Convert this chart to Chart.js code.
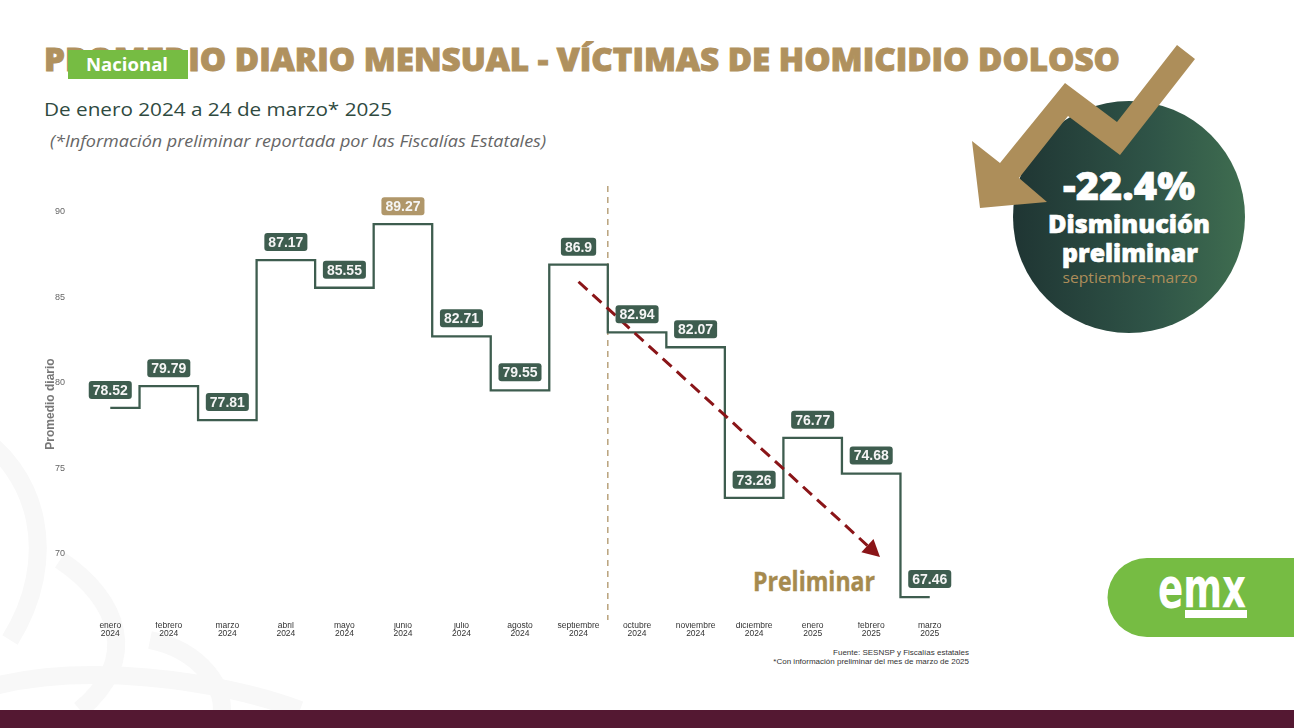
<!DOCTYPE html>
<html lang="es">
<head>
<meta charset="utf-8">
<title>Promedio diario mensual - víctimas de homicidio doloso</title>
<script src="https://cdn.jsdelivr.net/npm/chart.js@4.4.1/dist/chart.umd.min.js"></script>
<style>
  body { margin: 0; width: 1294px; height: 728px; overflow: hidden; background: #fff; position: relative; }
  #deco, #myChart { position: absolute; left: 0; top: 0; }
</style>
</head>
<body>
<svg id="deco" width="1294" height="728" xmlns="http://www.w3.org/2000/svg">
  <defs>
    <linearGradient id="verde" x1="0" y1="0" x2="1" y2="0">
      <stop offset="0" stop-color="#1f3533"/>
      <stop offset="0.6" stop-color="#2f5447"/>
      <stop offset="1" stop-color="#3f6d50"/>
    </linearGradient>
  </defs>
  <!-- fondo tenue -->
  <g fill="none" stroke="#f8f8f8" stroke-width="18">
    <path d="M-30,430 C40,470 60,560 10,640"/>
    <path d="M60,560 C120,600 140,660 80,710"/>
    <path d="M-20,690 C80,660 220,680 300,710"/>
    <path d="M150,640 C200,650 230,690 220,720"/>
  </g>

  <text x="44" y="71" font-family="Open Sans, sans-serif" font-weight="800" font-size="31" fill="#b0915e" stroke="#b0915e" stroke-width="0.9" textLength="1076" lengthAdjust="spacingAndGlyphs">PROMEDIO DIARIO MENSUAL - VÍCTIMAS DE HOMICIDIO DOLOSO</text>
  <rect x="68" y="50" width="120" height="29" fill="#76bc43"/>
  <text x="127" y="71" text-anchor="middle" font-family="Open Sans, sans-serif" font-weight="700" font-size="18" fill="#fff" textLength="82" lengthAdjust="spacingAndGlyphs">Nacional</text>

  <text x="44" y="116" font-family="Open Sans, sans-serif" font-size="19" fill="#2f4a3f" textLength="348" lengthAdjust="spacingAndGlyphs">De enero 2024 a 24 de marzo* 2025</text>
  <text x="50" y="147" font-family="Open Sans, sans-serif" font-style="italic" font-size="16" fill="#666" textLength="496" lengthAdjust="spacingAndGlyphs">(*Información preliminar reportada por las Fiscalías Estatales)</text>

  <circle cx="1129" cy="217" r="116" fill="url(#verde)"/>
  <polygon fill="#ad8e5a" points="1177,45 1195,59 1120,155 1068,116 1019,178 1047,202 980,208 972,141 1000,163 1065,83 1117,122"/>
  <g font-family="Open Sans, sans-serif" font-weight="800" fill="#fff" stroke="#fff" stroke-width="0.6" text-anchor="middle">
    <text x="1129" y="200" font-size="38" textLength="132" lengthAdjust="spacingAndGlyphs">-22.4%</text>
    <text x="1129" y="233" font-size="24" textLength="162" lengthAdjust="spacingAndGlyphs">Disminución</text>
    <text x="1130" y="262" font-size="24" textLength="136" lengthAdjust="spacingAndGlyphs">preliminar</text>
  </g>
  <text x="1130" y="283" text-anchor="middle" font-family="Open Sans, sans-serif" font-size="14" fill="#ad8e5a" textLength="135" lengthAdjust="spacingAndGlyphs">septiembre-marzo</text>

  <text x="753" y="591" font-family="Open Sans, sans-serif" font-weight="700" font-size="26" fill="#a68a4e" stroke="#a68a4e" stroke-width="0.4" textLength="122" lengthAdjust="spacingAndGlyphs">Preliminar</text>

  <g font-family="Liberation Sans, Arial, sans-serif" font-size="8" fill="#333" text-anchor="end">
    <text x="969" y="655">Fuente: SESNSP y Fiscalías estatales</text>
    <text x="969" y="664">*Con información preliminar del mes de marzo de 2025</text>
  </g>

  <path d="M1294,558 H1147 A39.5,39.5 0 0 0 1147,637 H1294 Z" fill="#76bc43"/>
  <text x="1158" y="607" font-family="DejaVu Sans Condensed, sans-serif" font-weight="700" font-size="34" fill="#fff" textLength="88" lengthAdjust="spacingAndGlyphs" transform="translate(0,-364) scale(1,1.6)">emx</text>
  <rect x="1185" y="610" width="62" height="8" fill="#fff"/>

  <rect x="0" y="710" width="1294" height="18" fill="#541832"/>
</svg>

<canvas id="myChart" width="1294" height="728"></canvas>

<script>
const meses = [
    ['enero', '2024'], ['febrero', '2024'], ['marzo', '2024'], ['abril', '2024'],
    ['mayo', '2024'], ['junio', '2024'], ['julio', '2024'], ['agosto', '2024'],
    ['septiembre', '2024'], ['octubre', '2024'], ['noviembre', '2024'], ['diciembre', '2024'],
    ['enero', '2025'], ['febrero', '2025'], ['marzo', '2025']
];
const promedios = [78.52, 79.79, 77.81, 87.17, 85.55, 89.27, 82.71, 79.55, 86.9, 82.94, 82.07, 73.26, 76.77, 74.68, 67.46];
const yTicks = [70, 75, 80, 85, 90];

// tendencia punteada (posición en categorías, valor) y corte preliminar
const tendenciaX = [8, 13.15];
const tendenciaY = [85.9, 69.8];
const corte = 8.5;

const verde = '#3e5d4f';
const dorado = '#b0976a';

const tendencia = {
    id: 'tendencia',
    beforeDatasetsDraw(chart) {
        const { ctx, chartArea, scales } = chart;
        const x = scales.x.getPixelForValue(corte);
        ctx.save();
        ctx.strokeStyle = '#b9a27c';
        ctx.lineWidth = 1.5;
        ctx.setLineDash([6, 5]);
        ctx.beginPath();
        ctx.moveTo(x, chartArea.top);
        ctx.lineTo(x, chartArea.bottom - 2);
        ctx.stroke();
        ctx.restore();
    },
    afterDatasetsDraw(chart) {
        const { ctx, scales } = chart;
        const x1 = scales.x.getPixelForValue(tendenciaX[0]);
        const y1 = scales.y.getPixelForValue(tendenciaY[0]);
        const x2 = scales.x.getPixelForValue(tendenciaX[1]);
        const y2 = scales.y.getPixelForValue(tendenciaY[1]);
        const ang = Math.atan2(y2 - y1, x2 - x1);
        const head = 17;
        ctx.save();
        ctx.strokeStyle = '#8a1518';
        ctx.fillStyle = '#8a1518';
        ctx.lineWidth = 3;
        ctx.setLineDash([12, 7]);
        ctx.beginPath();
        ctx.moveTo(x1, y1);
        ctx.lineTo(x2 - head * Math.cos(ang), y2 - head * Math.sin(ang));
        ctx.stroke();
        ctx.setLineDash([]);
        ctx.beginPath();
        ctx.moveTo(x2, y2);
        ctx.lineTo(x2 - head * Math.cos(ang) + 9 * Math.sin(ang), y2 - head * Math.sin(ang) - 9 * Math.cos(ang));
        ctx.lineTo(x2 - head * Math.cos(ang) - 9 * Math.sin(ang), y2 - head * Math.sin(ang) + 9 * Math.cos(ang));
        ctx.closePath();
        ctx.fill();
        ctx.restore();
    }
};

const etiquetas = {
    id: 'etiquetas',
    afterDatasetsDraw(chart) {
        const ctx = chart.ctx;
        const puntos = chart.getDatasetMeta(0).data;
        const maximo = Math.max(...promedios);
        ctx.save();
        ctx.font = 'bold 14px "Liberation Sans", Arial, sans-serif';
        ctx.textAlign = 'center';
        ctx.textBaseline = 'middle';
        puntos.forEach((pt, i) => {
            const txt = String(promedios[i]);
            const w = ctx.measureText(txt).width + 8;
            const h = 18;
            const cy = pt.y - 18;
            ctx.fillStyle = promedios[i] === maximo ? dorado : verde;
            ctx.beginPath();
            ctx.roundRect(pt.x - w / 2, cy - h / 2, w, h, 3);
            ctx.fill();
            ctx.fillStyle = '#f5f5f5';
            ctx.fillText(txt, pt.x, cy + 1);
        });
        ctx.restore();
    }
};

new Chart(document.getElementById('myChart'), {
    type: 'line',
    data: {
        labels: meses,
        datasets: [{
            data: promedios,
            stepped: 'middle',
            borderColor: verde,
            borderWidth: 2.3,
            pointRadius: 0,
            fill: false
        }]
    },
    options: {
        responsive: false,
        animation: false,
        layout: { padding: { left: 41, right: 335, top: 186, bottom: 76 } },
        plugins: { legend: { display: false }, tooltip: { enabled: false } },
        scales: {
            x: {
                offset: true,
                grid: { display: false, drawTicks: false },
                border: { display: false },
                ticks: {
                    autoSkip: false, maxRotation: 0, padding: 0,
                    color: '#333',
                    font: { family: '"Liberation Sans", Arial, sans-serif', size: 8.5, lineHeight: 0.95 }
                },
                afterFit: (scale) => { scale.height = 30; }
            },
            y: {
                min: 66,
                max: 91.5,
                grid: { display: false, drawTicks: false },
                border: { display: false },
                afterBuildTicks: (scale) => { scale.ticks = yTicks.map((v) => ({ value: v })); },
                ticks: {
                    padding: 16,
                    color: '#666',
                    font: { family: '"Liberation Sans", Arial, sans-serif', size: 9 }
                },
                title: {
                    display: true,
                    text: 'Promedio diario',
                    color: '#777',
                    padding: { top: 2, bottom: 0 },
                    font: { family: '"Liberation Sans", Arial, sans-serif', size: 12, weight: 'bold' }
                },
                afterFit: (scale) => { scale.width = 40; }
            }
        }
    },
    plugins: [tendencia, etiquetas]
});
</script>
</body>
</html>
